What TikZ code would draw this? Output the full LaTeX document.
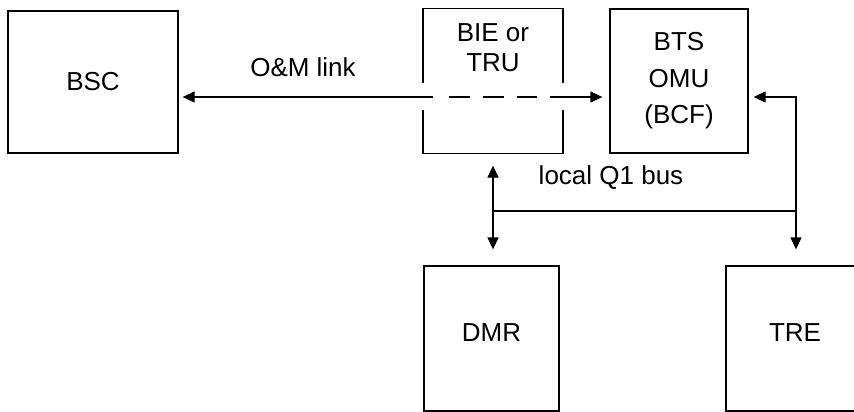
\documentclass[tikz,border=0pt]{standalone}
\usepackage{fontspec}
\setmainfont{Liberation Sans}
\usetikzlibrary{arrows.meta,calc}
\begin{document}
\begin{tikzpicture}[x=1pt,y=-1pt,
  line width=1.3pt,
  >={Triangle[length=12pt,width=11pt]},
  unit/.style={draw,line width=1.3pt,inner sep=0pt,align=center,
    font=\fontsize{26}{30}\selectfont},
  lbl/.style={inner sep=0pt,align=center,font=\fontsize{26}{30}\selectfont}]
  \clip (0,0) rectangle (854,412);

  % units
  \node[unit,minimum width=170pt,minimum height=142pt] (BSC) at (93,82) {BSC};
  \node[inner sep=0pt,minimum width=139pt,minimum height=144pt] (BIE) at (493,81) {};
  \node[lbl] (BIEtxt) at (493,48) {BIE or\\TRU};
  \node[unit,minimum width=138pt,minimum height=144pt,
    font=\fontsize{26}{36.5}\selectfont] (BTS) at (679,81) {BTS\\OMU\\(BCF)};
  \node[unit,minimum width=135pt,minimum height=145pt] (DMR) at (491.5,338.5) {};
  \node[lbl] at ($(DMR)+(0,-6)$) {DMR};
  \node[unit,minimum width=140pt,minimum height=145pt] (TRE) at (796,338.5) {};
  \node[lbl] at ($(TRE)+(-1,-6)$) {TRE};

  % BIE/TRU outline, open where the O&M link passes through
  \draw[line width=1.5pt] (BIE.west |- 0,83) -- (BIE.north west) -- (BIE.north east) -- (BIE.east |- 0,83);
  \draw[line width=1.5pt] (BIE.west |- 0,110) -- (BIE.south west) -- (BIE.south east) -- (BIE.east |- 0,110);

  % O&M link
  \coordinate (omL) at (BSC.east |- 0,97);
  \coordinate (omR) at (BTS.west |- 0,97);
  \coordinate (dashA) at (433,97);
  \coordinate (dashB) at (550,97);
  \draw[<-,shorten <=4pt] (omL) -- (dashA);
  \draw[dash pattern=on 21pt off 13pt] ($(dashA)+(16,0)$) -- ($(dashB)+(-13,0)$);
  \draw[->,shorten >=7pt] (dashB) -- (omR);
  \node[lbl] at (303,67) {O\&M link};

  % local Q1 bus
  \coordinate (busL) at (BIE.south |- 0,211);
  \coordinate (busR) at (TRE.north |- 0,211);
  \coordinate (btsIn) at (TRE.north |- BTS.east);
  \draw[<->,shorten <=12pt,shorten >=16pt] (BIE.south) -- (BIE.south |- DMR.north);
  \draw (busL) -- (busR);
  \draw[<->,shorten <=5pt,shorten >=16pt] ($(BTS.east)+(0,16)$) -- ($(btsIn)+(0,16)$) -- (TRE.north);
  \node[lbl] at (611,178) {local Q1 bus};
\end{tikzpicture}
\end{document}
